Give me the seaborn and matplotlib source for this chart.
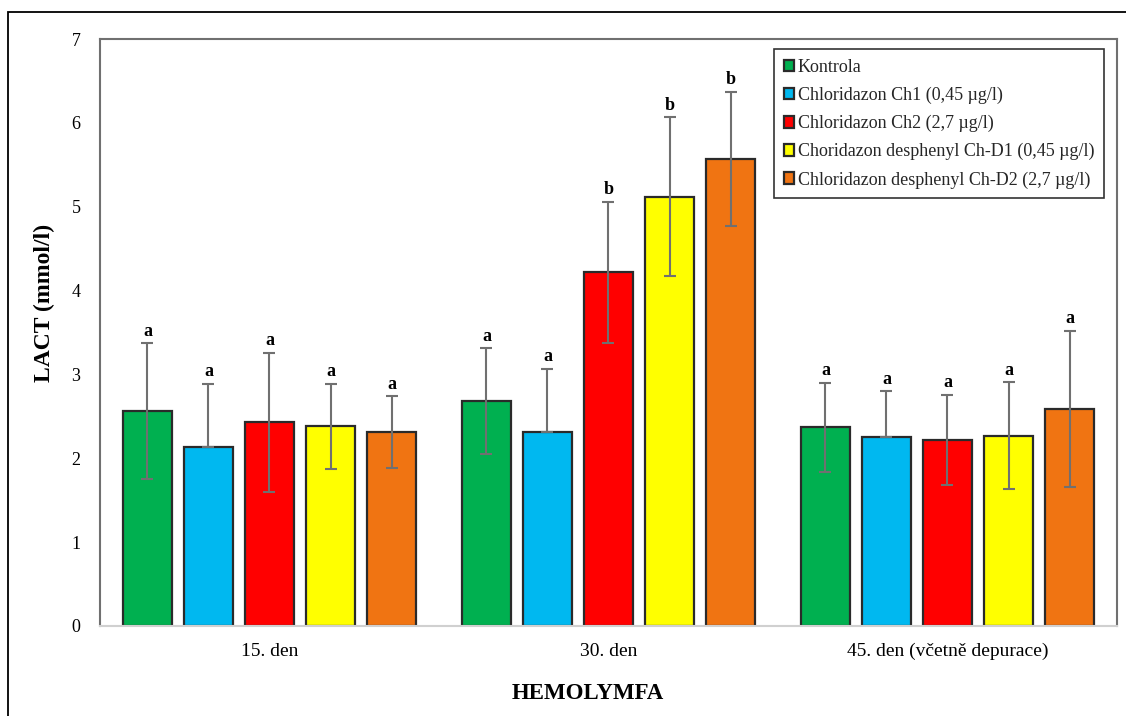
import numpy as np
import pandas as pd
import matplotlib
matplotlib.use("Agg")
import matplotlib.pyplot as plt
import seaborn as sns
from matplotlib.patches import Rectangle

# Sampling days and treatment groups
days = ["15. den", "30. den", "45. den (včetně depurace)"]
groups = [
    "Kontrola",
    "Chloridazon Ch1 (0,45 µg/l)",
    "Chloridazon Ch2 (2,7 µg/l)",
    "Choridazon desphenyl Ch-D1 (0,45 µg/l)",
    "Chloridazon desphenyl Ch-D2 (2,7 µg/l)",
]
colors = ["#00B050", "#00B8F0", "#FF0000", "#FFFF00", "#F07412"]

# Mean lactate (mmol/l) per group, one list per day
lact_15 = [2.56, 2.13, 2.43, 2.38, 2.31]
lact_30 = [2.68, 2.31, 4.22, 5.12, 5.57]
lact_45 = [2.37, 2.25, 2.22, 2.27, 2.59]

# Standard deviations
sd_15 = [0.81, 0.76, 0.83, 0.51, 0.43]
sd_30 = [0.63, 0.76, 0.84, 0.95, 0.80]
sd_45 = [0.53, 0.55, 0.54, 0.64, 0.93]

# Significance letters
sig_15 = ["a", "a", "a", "a", "a"]
sig_30 = ["a", "a", "b", "b", "b"]
sig_45 = ["a", "a", "a", "a", "a"]

means = [lact_15, lact_30, lact_45]
sds = [sd_15, sd_30, sd_45]
sigs = [sig_15, sig_30, sig_45]

df = pd.DataFrame(
    [(d, g, means[i][j], sds[i][j], sigs[i][j])
     for i, d in enumerate(days) for j, g in enumerate(groups)],
    columns=["day", "group", "lact", "sd", "sig"],
)

sns.set_theme(style="white")
plt.rcParams["font.family"] = ["Liberation Serif", "DejaVu Serif"]

fig = plt.figure(figsize=(11.26, 7.16), dpi=100)
ax = fig.add_axes([0.0888, 0.1257, 0.9032, 0.8198])

sns.barplot(
    data=df, x="day", y="lact", hue="group", order=days, hue_order=groups,
    palette=colors, saturation=1, width=0.9, gap=0.2, errorbar=None,
    edgecolor="#2a2a2a", linewidth=1.6, ax=ax, zorder=2,
)

# Error bars and significance letters at each bar centre
for j, g in enumerate(groups):
    cont = ax.containers[j]
    for i, bar in enumerate(cont):
        xc = bar.get_x() + bar.get_width() / 2
        m = means[i][j]
        s = sds[i][j]
        lower = 0.0 if j == 1 else s
        ax.errorbar(xc, m, yerr=[[lower], [s]], fmt="none", ecolor="#707070",
                    elinewidth=1.5, capsize=4, capthick=1.5, zorder=3)
        ax.text(xc, m + s + 0.04, sigs[i][j], ha="center", va="bottom",
                fontsize=13, fontweight="bold", color="black", zorder=4)

ax.set_ylim(0, 7)
ax.set_xlim(-0.5, 2.5)
ax.set_yticks(range(0, 8))
ax.tick_params(axis="y", length=0, labelsize=13, colors="black", pad=14)
ax.tick_params(axis="x", length=0, labelsize=14, colors="black", pad=12)

for side in ["left", "top", "right"]:
    ax.spines[side].set_color("#707070")
    ax.spines[side].set_linewidth(1.5)
ax.spines["bottom"].set_color("#d0d0d0")
ax.spines["bottom"].set_linewidth(1.5)

ax.set_ylabel("LACT (mmol/l)", fontsize=17, fontweight="bold", color="black")
ax.yaxis.set_label_coords(-0.044, 0.55)
ax.set_xlabel("HEMOLYMFA", fontsize=16.5, fontweight="bold", color="black")
ax.xaxis.set_label_coords(0.48, -0.097)

handles, labels = ax.get_legend_handles_labels()
leg = ax.legend(
    handles, labels, loc="upper right", bbox_to_anchor=(0.9876, 0.983),
    fontsize=13, frameon=True, fancybox=False, edgecolor="black",
    handlelength=0.6, handleheight=0.6, handletextpad=0.2,
    labelspacing=0.6, borderpad=0.55, borderaxespad=0,
)
leg.get_frame().set_linewidth(1.2)

# Outer frame of the figure
fig.add_artist(Rectangle((8 / 1126, -0.02), 1.2, 1 - 12 / 716 + 0.02,
                         transform=fig.transFigure, fill=False,
                         edgecolor="black", linewidth=1.3))

fig.savefig("out.png", dpi=100)
